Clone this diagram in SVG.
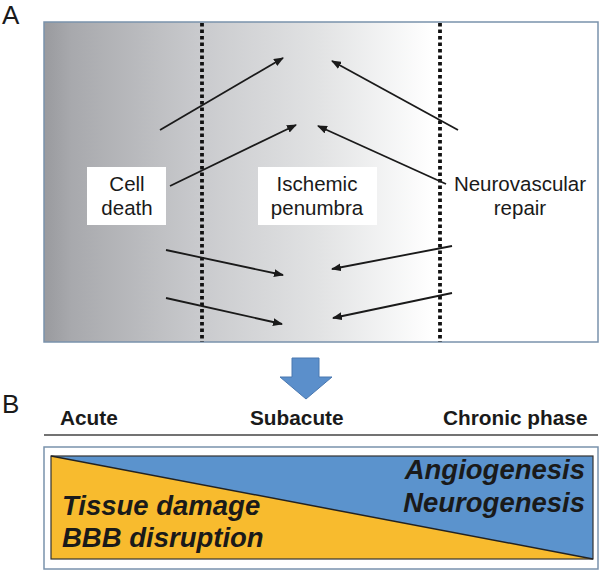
<svg xmlns="http://www.w3.org/2000/svg" width="600" height="571" viewBox="0 0 600 571">
<defs>
<linearGradient id="bg" x1="44" y1="0" x2="598" y2="0" gradientUnits="userSpaceOnUse">
<stop offset="0" stop-color="#999a9e"/>
<stop offset="0.05" stop-color="#a8a9ad"/>
<stop offset="0.28" stop-color="#c9cacd"/>
<stop offset="0.5" stop-color="#e2e3e4"/>
<stop offset="0.7" stop-color="#ffffff"/>
<stop offset="1" stop-color="#ffffff"/>
</linearGradient>
<marker id="ah" markerWidth="10" markerHeight="8" refX="9" refY="4" orient="auto" markerUnits="userSpaceOnUse">
<path d="M0,0 L10,4 L0,8 Z" fill="#1a1a1a"/>
</marker>
<style>
.lbl{font-family:"Liberation Sans",Arial,sans-serif;font-size:20.5px;fill:#1a1a1a;text-anchor:middle}
.panel{font-family:"Liberation Sans",Arial,sans-serif;font-size:26px;fill:#1a1a1a}
.phase{font-family:"Liberation Sans",Arial,sans-serif;font-size:20.8px;font-weight:bold;fill:#1a1a1a}
.big{font-family:"Liberation Sans",Arial,sans-serif;font-size:27.5px;font-weight:bold;font-style:italic;fill:#1a1a1a}
.arr{stroke:#1a1a1a;stroke-width:1.8;fill:none;marker-end:url(#ah)}
.dot{stroke:#111;stroke-width:3.8;stroke-dasharray:3.5 3}
.box{fill:#ffffff}
</style>
</defs>

<text class="panel" x="2" y="24">A</text>
<rect x="44" y="22" width="554" height="320" fill="url(#bg)" stroke="#7a92ac" stroke-width="1.5"/>
<line class="dot" x1="202" y1="23" x2="202" y2="342"/>
<line class="dot" x1="440" y1="23" x2="440" y2="342"/>

<g id="connectors">
<line class="arr" x1="160" y1="130" x2="283" y2="58"/>
<line class="arr" x1="170" y1="186" x2="296" y2="125"/>
<line class="arr" x1="458" y1="130" x2="332" y2="61"/>
<line class="arr" x1="446" y1="184" x2="318" y2="126"/>
<line class="arr" x1="166" y1="250" x2="283" y2="275"/>
<line class="arr" x1="166" y1="298" x2="282" y2="324"/>
<line class="arr" x1="452" y1="246" x2="332" y2="269"/>
<line class="arr" x1="452" y1="293" x2="333" y2="318"/>
</g>

<g id="cell-death">
<rect class="box" x="87" y="167" width="79" height="58"/>
<text class="lbl" x="127" y="191">Cell</text>
<text class="lbl" x="127" y="215">death</text>
</g>
<g id="ischemic-penumbra">
<rect class="box" x="258" y="167" width="119" height="58"/>
<text class="lbl" x="317" y="191">Ischemic</text>
<text class="lbl" x="317" y="215">penumbra</text>
</g>
<g id="neurovascular-repair">
<text class="lbl" x="520" y="191">Neurovascular</text>
<text class="lbl" x="520" y="215">repair</text>
</g>

<g id="down-arrow">
<path d="M292,358 L319,358 L319,377 L332,377 L306,399 L280,377 L292,377 Z" fill="#5b8fcb" stroke="#4a78b0" stroke-width="1"/>
</g>

<text class="panel" x="2" y="413">B</text>
<g id="phases">
<text class="phase" x="60" y="425">Acute</text>
<text class="phase" x="250" y="425">Subacute</text>
<text class="phase" x="443" y="425">Chronic phase</text>
<line x1="44" y1="435" x2="598" y2="435" stroke="#444" stroke-width="1.5"/>
</g>

<g id="timeline">
<rect x="44" y="447" width="554" height="122" fill="#ffffff" stroke="#7a92ac" stroke-width="1.5"/>
<polygon points="51,456 593,456 593,559" fill="#5b93cd"/>
<polygon points="51,456 593,559 51,559" fill="#f8bb2e"/>
<rect x="51" y="456" width="542" height="103" fill="none" stroke="#333" stroke-width="1.2"/>
<line x1="51" y1="456" x2="593" y2="559" stroke="#222" stroke-width="1.5"/>
<text class="big" x="62" y="515">Tissue damage</text>
<text class="big" x="62" y="547">BBB disruption</text>
<text class="big" x="585" y="479" text-anchor="end">Angiogenesis</text>
<text class="big" x="585" y="512" text-anchor="end">Neurogenesis</text>
</g>
</svg>
